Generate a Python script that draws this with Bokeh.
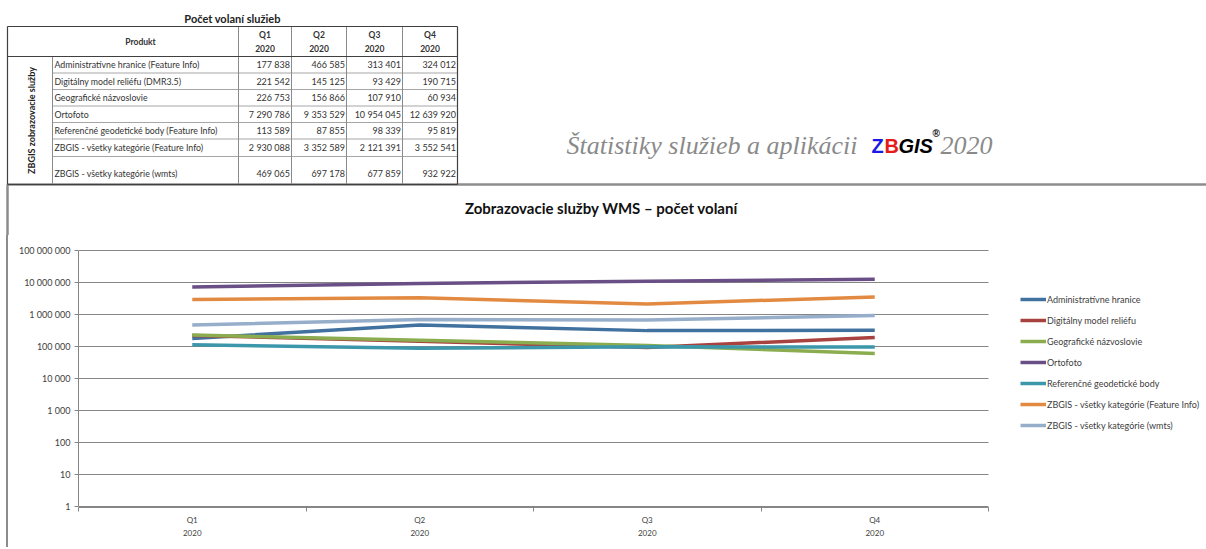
import math
from bokeh.plotting import figure
from bokeh.models import (Range1d, Legend, LegendItem, FixedTicker, CustomJSTickFormatter)
from bokeh.core.properties import value
from bokeh.embed import file_html
from bokeh.resources import INLINE

# ---------------- data ----------------
quarters = ["Q1", "Q2", "Q3", "Q4"]
year = "2020"
table_products = [
    "Administratívne hranice (Feature Info)",
    "Digitálny model reliéfu (DMR3.5)",
    "Geografické názvoslovie",
    "Ortofoto",
    "Referenčné geodetické body (Feature Info)",
    "ZBGIS - všetky kategórie (Feature Info)",
    "ZBGIS - všetky kategórie (wmts)",
]
series_names = [
    "Administratívne hranice",
    "Digitálny model reliéfu",
    "Geografické názvoslovie",
    "Ortofoto",
    "Referenčné geodetické body",
    "ZBGIS - všetky kategórie (Feature Info)",
    "ZBGIS - všetky kategórie (wmts)",
]
admin_hranice = [177838, 466585, 313401, 324012]
dmr = [221542, 145125, 93429, 190715]
geo_nazvoslovie = [226753, 156866, 107910, 60934]
ortofoto = [7290786, 9353529, 10954045, 12639920]
ref_body = [113589, 87855, 98339, 95819]
zbgis_fi = [2930088, 3352589, 2121391, 3552541]
zbgis_wmts = [469065, 697178, 677859, 932922]
y_ticks = [1, 10, 100, 1000, 10000, 100000, 1000000, 10000000, 100000000]
colors = ["#41719f", "#a8423e", "#8bad4f", "#6a4f86", "#3d97ab", "#e38a42", "#97aecb"]

all_series = [admin_hranice, dmr, geo_nazvoslovie, ortofoto, ref_body, zbgis_fi, zbgis_wmts]

def fmt(v):
    return f"{v:,}".replace(",", " ")

FONT = "Lato"
W = 1206
GRAY = "#8c8c8c"

# ---------------- top figure: table + heading + chart title ----------------
TOP_H = 235
top = figure(width=W, height=TOP_H, x_range=Range1d(0, W), y_range=Range1d(TOP_H, 0),
             x_axis_type=None, y_axis_type=None, output_backend="svg",
             toolbar_location=None, min_border=0)
top.grid.visible = False
top.outline_line_color = None

col_edges = [7, 52, 238, 291, 346, 402, 457]
row_edges = [26, 56, 72.5, 89, 105.5, 122, 138.5, 156, 184]

# chart frame border (top + left piece)
top.segment(x0=[7, 7], y0=[184, 184], x1=[W, 7], y1=[184, TOP_H],
            line_color=GRAY, line_width=2.5)

# inner horizontal lines
hx0, hy0, hx1 = [], [], []
for y in row_edges[2:-1]:
    hx0.append(col_edges[1]); hy0.append(y); hx1.append(col_edges[-1])
top.segment(x0=hx0, y0=hy0, x1=hx1, y1=hy0, line_color="#a6a6a6", line_width=1)
# inner vertical lines
vx, vy0, vy1 = [col_edges[1]], [row_edges[1]], [row_edges[-1]]
for x in col_edges[2:-1]:
    vx.append(x); vy0.append(row_edges[0]); vy1.append(row_edges[-1])
top.segment(x0=vx, y0=vy0, x1=vx, y1=vy1, line_color="#8a8a8a", line_width=1)
# outer border + header line
L, R, T, B, H = col_edges[0], col_edges[-1], row_edges[0], row_edges[-1], row_edges[1]
top.segment(x0=[L, L, L, R, L], y0=[T, B, T, T, H],
            x1=[R, R, L, R, R], y1=[T, B, B, B, H],
            line_color="#404040", line_width=1.2)

# table title
top.text(x=[232], y=[18], text=["Počet volaní služieb"], text_font=value(FONT),
         text_font_style="bold", text_font_size="11px", text_align="center",
         text_baseline="middle", text_color="#222222")
# header
hdr_x, hdr_y, hdr_t = [140], [41], ["Produkt"]
for i, q in enumerate(quarters):
    cx = (col_edges[2 + i] + col_edges[3 + i]) / 2
    hdr_x += [cx, cx]
    hdr_y += [34, 48]
    hdr_t += [q, year]
top.text(x=hdr_x, y=hdr_y, text=hdr_t, text_font=value(FONT), text_font_style="bold",
         text_font_size="8.5px", text_align="center", text_baseline="middle", text_color="#333333")
# vertical group label
top.text(x=[31], y=[(row_edges[1] + row_edges[-1]) / 2], text=["ZBGIS zobrazovacie služby"],
         angle=[math.pi / 2], text_font=value(FONT), text_font_style="bold",
         text_font_size="9px", text_align="center", text_baseline="middle", text_color="#222222")
# rows
px, py, pt = [], [], []
nx, ny, nt = [], [], []
for r, name in enumerate(table_products):
    yc = (row_edges[1 + r] + row_edges[2 + r]) / 2
    if r == len(table_products) - 1:
        yc += 3
    px.append(col_edges[1] + 2); py.append(yc); pt.append(name)
    for c in range(4):
        nx.append(col_edges[3 + c] - 1.5); ny.append(yc); nt.append(fmt(all_series[r][c]))
top.text(x=px, y=py, text=pt, text_font=value(FONT), text_font_size="8.8px",
         text_align="left", text_baseline="middle", text_color="#333333")
top.text(x=nx, y=ny, text=nt, text_font=value(FONT), text_font_size="9px",
         text_align="right", text_baseline="middle", text_color="#333333")

# heading "Štatistiky služieb a aplikácii ZBGIS® 2020"
base = 145
top.text(x=[566], y=[base], text=["Štatistiky služieb a aplikácii"],
         text_font=value("Liberation Serif"), text_font_style="italic",
         text_font_size="26px", text_align="left", text_baseline="alphabetic",
         text_color="#8a8a8a")
top.text(x=[871], y=[base], text=["Z"], text_font=value("Liberation Sans"),
         text_font_style="bold", text_font_size="20px", text_baseline="alphabetic",
         text_color="#1a1ae6")
top.text(x=[884], y=[base], text=["B"], text_font=value("Liberation Sans"),
         text_font_style="bold", text_font_size="20px", text_baseline="alphabetic",
         text_color="#e61a1a")
top.text(x=[898], y=[base], text=["GIS"], text_font=value("Liberation Sans"),
         text_font_style="bold italic", text_font_size="20px", text_baseline="alphabetic",
         text_color="#000000")
top.text(x=[932], y=[base - 12], text=["®"], text_font=value("Liberation Sans"),
         text_font_style="bold", text_font_size="10px", text_baseline="alphabetic",
         text_color="#000000")
top.text(x=[940], y=[base], text=["2020"], text_font=value("Liberation Serif"),
         text_font_style="italic", text_font_size="26px", text_baseline="alphabetic",
         text_color="#8a8a8a")

# chart title
top.text(x=[601], y=[207], text=["Zobrazovacie služby WMS – počet volaní"],
         text_font=value(FONT), text_font_style="bold", text_font_size="15px",
         text_align="center", text_baseline="middle", text_color="#111111")

# ---------------- chart ----------------
n = len(quarters)
xpos = [i + 0.5 for i in range(n)]
CH_W = W - 8          # 6px css margin + 2px border
CH_H = 312
FRAME_L = 70          # canvas px -> screen x 78
cat_px = 910.0        # width of the category area in px
frame_w = CH_W - FRAME_L
x_end = n * frame_w / cat_px
ylo = 10 ** (-1 / 32)
yhi = 10 ** (8 + 1 / 32)
ch = figure(width=CH_W, height=CH_H, x_range=Range1d(0, x_end),
            y_range=Range1d(ylo, yhi), y_axis_type="log",
            output_backend="svg", toolbar_location=None,
            min_border_left=FRAME_L, min_border_right=0, min_border_top=14, min_border_bottom=40,
            styles={"margin-left": "6px", "border-left": "2px solid " + GRAY})
ch.outline_line_color = None
ch.grid.visible = False

# horizontal gridlines over the category area
ch.segment(x0=[0] * len(y_ticks), y0=y_ticks, x1=[n] * len(y_ticks), y1=y_ticks,
           line_color="#868686", line_width=1)

yt = FixedTicker(ticks=y_ticks)
ch.yaxis.ticker = yt
ch.yaxis.bounds = (y_ticks[0], y_ticks[-1])
ch.yaxis.formatter = CustomJSTickFormatter(
    code="return Math.round(tick).toString().replace(/\\B(?=(\\d{3})+(?!\\d))/g, ' ');")
ch.yaxis.major_tick_out = 4
ch.yaxis.major_tick_in = 0
ch.yaxis.minor_tick_line_color = None
ch.yaxis.axis_line_color = "#868686"
ch.yaxis.major_tick_line_color = "#868686"
ch.yaxis.major_label_standoff = 4
ch.yaxis.major_label_text_font = FONT
ch.yaxis.major_label_text_font_size = "9px"
ch.yaxis.major_label_text_color = "#404040"

ch.xaxis.ticker = FixedTicker(ticks=xpos, minor_ticks=list(range(n + 1)))
ch.xaxis.bounds = (0, n)
ch.xaxis.major_label_overrides = {x: f"{q}\n{year}" for x, q in zip(xpos, quarters)}
ch.xaxis.major_tick_out = 0
ch.xaxis.major_tick_in = 0
ch.xaxis.minor_tick_out = 4
ch.xaxis.minor_tick_in = 0
ch.xaxis.axis_line_color = "#868686"
ch.xaxis.minor_tick_line_color = "#868686"
ch.xaxis.major_label_standoff = 3
ch.xaxis.major_label_text_font = FONT
ch.xaxis.major_label_text_font_size = "8px"
ch.xaxis.major_label_text_line_height = 1.35
ch.xaxis.major_label_text_color = "#404040"

items = []
for name, vals, col in zip(series_names, all_series, colors):
    r = ch.line(x=xpos, y=vals, line_color=col, line_width=3.5)
    items.append(LegendItem(label=name, renderers=[r]))

legend = Legend(items=items, location=(942, 72), padding=0, spacing=1, margin=0,
                glyph_width=26, glyph_height=20, label_height=20, label_standoff=1,
                label_text_font=FONT, label_text_font_size="9px",
                label_text_color="#404040", border_line_color=None,
                background_fill_alpha=0)
ch.add_layout(legend)

open("out.html", "w").write(file_html([top, ch], INLINE))
